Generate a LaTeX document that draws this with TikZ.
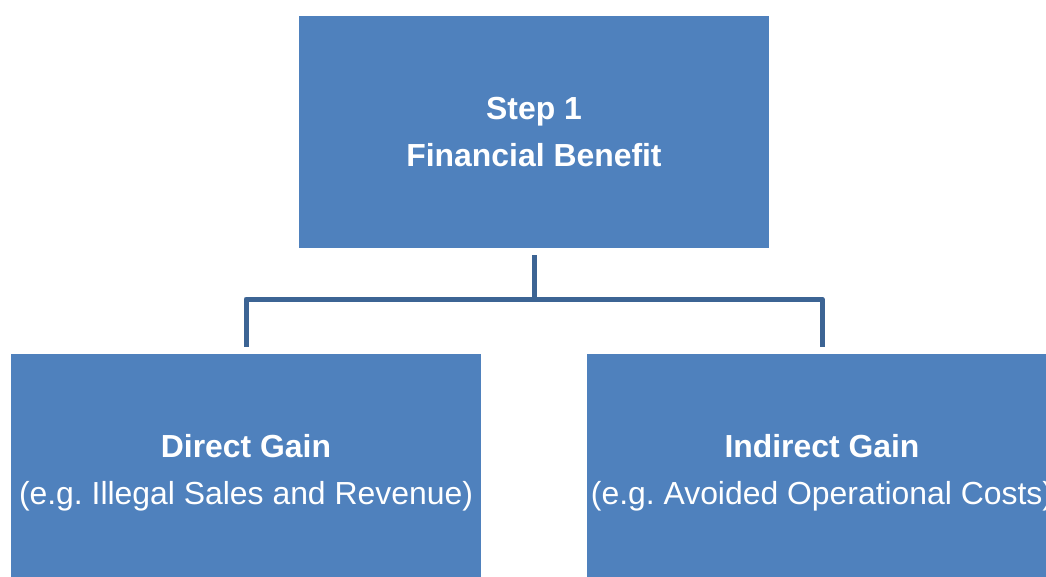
\documentclass[tikz,border=0pt]{standalone}
\usepackage{fontspec}
\setmainfont{Liberation Sans}
\definecolor{boxblue}{HTML}{4F81BD}
\definecolor{lineblue}{HTML}{3C6494}
\frenchspacing
\begin{document}
\begin{tikzpicture}[x=1pt,y=1pt,
  box/.style={fill=boxblue, draw=none, minimum width=470pt, minimum height=232pt,
    inner sep=0pt, align=center, text=white, font=\fontsize{31.9}{47}\selectfont},
  conn/.style={draw=lineblue, line width=5pt, line join=round}]
\useasboundingbox (0,0) rectangle (1046,-577);
\clip (0,0) rectangle (1046,-577);
\node[box] (top) at (534,-132) {\textbf{Step 1}\\\textbf{Financial Benefit}};
\node[box, minimum height=238pt] (left) at (246,-473) {\textbf{Direct Gain}\\(e.g. Illegal Sales and Revenue)};
\node[box, minimum height=238pt] (right) at (822,-473) {\textbf{Indirect Gain}\\(e.g. Avoided Operational Costs)};
\coordinate (j) at (534,-299);
\draw[conn, shorten <=7pt] (top.south) -- (j);
\draw[conn, shorten >=7pt] (j) -| (left.north);
\draw[conn, shorten >=7pt] (j) -| (right.north);
\end{tikzpicture}
\end{document}
